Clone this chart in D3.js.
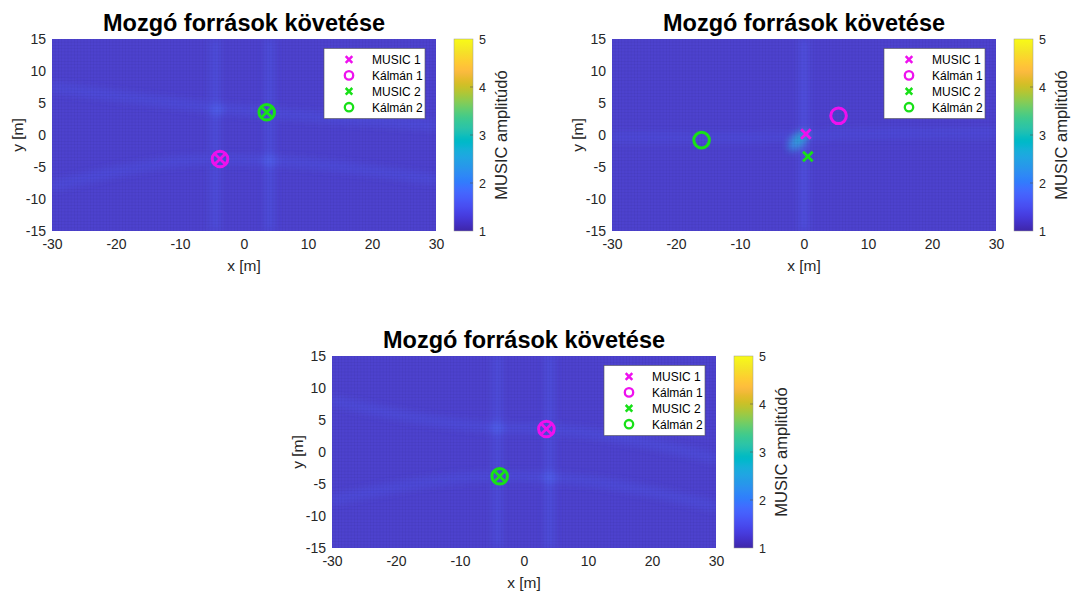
<!DOCTYPE html>
<html><head><meta charset="utf-8">
<script src="https://cdn.jsdelivr.net/npm/d3@7"></script>
<style>body{margin:0;background:#fff}svg{display:block}text{font-family:"Liberation Sans",Arial,sans-serif}</style>
</head><body>
<script>
// ---------- data ----------
const titleText = "Mozgó források követése";
const xTicks = [-30,-20,-10,0,10,20,30];
const yTicks = [-15,-10,-5,0,5,10,15];
const cTicks = [1,2,3,4,5];
const legendNames = ["MUSIC 1","Kálmán 1","MUSIC 2","Kálmán 2"];
// estimated positions per panel [panel1, panel2, panel3]
const music1  = [[-3.75,-3.75],[0.3,0.15],[3.5,3.6]];
const kalman1 = [[-3.75,-3.75],[5.4,3.0],[3.5,3.6]];
const music2  = [[3.55,3.55],[0.6,-3.35],[-3.8,-3.8]];
const kalman2 = [[3.55,3.55],[-16,-0.8],[-3.8,-3.8]];
// MUSIC spectrum: background level and faint ridges (data units)
const baseLevel = [1.28,1.28,1.28];
const ridges1 = [
  {pts:[[-4.5,15],[-4.5,-15]], level:1.45},
  {pts:[[4,15],[4,-15]], level:1.45},
  {pts:[[-30,7.5],[-4,4.2],[3.5,3.5],[30,1.5]], level:1.42},
  {pts:[[-30,-8],[-4,-3.8],[3.5,-4],[30,-7]], level:1.42}
];
const ridges2 = [
  {pts:[[0,15],[0,-15]], level:1.48},
  {pts:[[-30,-0.3],[-10,-0.4],[10,0.2],[30,0.3]], level:1.4}
];
const ridges3 = [
  {pts:[[-4.2,15],[-4.2,-15]], level:1.45},
  {pts:[[4,15],[4,-15]], level:1.45},
  {pts:[[-30,8],[-4,3.8],[3.5,3.6],[30,-1]], level:1.42},
  {pts:[[-30,-7.5],[-3.8,-3.8],[4,-4],[30,-8.5]], level:1.42}
];
const spots1 = [{x:-4.3,y:4,rx:1,ry:1,angle:0,level:1.65},{x:4,y:-4,rx:1,ry:1,angle:0,level:1.65}];
const spots2 = [{x:-0.9,y:-0.9,rx:2.0,ry:1.0,angle:-45,level:2.2},{x:-0.7,y:-0.6,rx:1.0,ry:0.6,angle:-45,level:2.6}];
const spots3 = [{x:-4.2,y:3.8,rx:1,ry:1,angle:0,level:1.65},{x:4,y:-4,rx:1,ry:1,angle:0,level:1.65}];
const ridgeSets = [ridges1, ridges2, ridges3];
const spotSets = [spots1, spots2, spots3];
// parula colormap (MATLAB)
const parula = [[0.2422,0.1504,0.6603],[0.2504,0.1650,0.7076],[0.2578,0.1818,0.7511],[0.2647,0.1978,0.7952],[0.2706,0.2147,0.8364],[0.2751,0.2342,0.8710],[0.2783,0.2559,0.8991],[0.2803,0.2782,0.9221],[0.2813,0.3006,0.9414],[0.2810,0.3228,0.9579],[0.2795,0.3447,0.9717],[0.2760,0.3667,0.9829],[0.2699,0.3892,0.9906],[0.2602,0.4123,0.9952],[0.2440,0.4358,0.9988],[0.2206,0.4603,0.9973],[0.1963,0.4847,0.9892],[0.1834,0.5074,0.9798],[0.1786,0.5289,0.9682],[0.1764,0.5499,0.9520],[0.1687,0.5703,0.9359],[0.1540,0.5902,0.9218],[0.1460,0.6091,0.9079],[0.1380,0.6276,0.8973],[0.1248,0.6459,0.8883],[0.1113,0.6635,0.8763],[0.0952,0.6798,0.8598],[0.0689,0.6948,0.8394],[0.0297,0.7082,0.8163],[0.0036,0.7203,0.7917],[0.0067,0.7312,0.7660],[0.0433,0.7411,0.7394],[0.0964,0.7500,0.7120],[0.1408,0.7584,0.6842],[0.1717,0.7670,0.6554],[0.1938,0.7758,0.6251],[0.2161,0.7843,0.5923],[0.2470,0.7918,0.5567],[0.2906,0.7973,0.5188],[0.3406,0.8008,0.4789],[0.3909,0.8029,0.4354],[0.4456,0.8024,0.3909],[0.5044,0.7993,0.3480],[0.5616,0.7942,0.3045],[0.6174,0.7876,0.2612],[0.6720,0.7793,0.2227],[0.7242,0.7698,0.1910],[0.7738,0.7598,0.1646],[0.8203,0.7498,0.1535],[0.8634,0.7406,0.1596],[0.9035,0.7330,0.1774],[0.9393,0.7288,0.2100],[0.9728,0.7298,0.2394],[0.9956,0.7434,0.2371],[0.9970,0.7659,0.2199],[0.9952,0.7893,0.2028],[0.9892,0.8136,0.1885],[0.9786,0.8386,0.1766],[0.9676,0.8639,0.1643],[0.9610,0.8890,0.1537],[0.9597,0.9135,0.1423],[0.9628,0.9373,0.1265],[0.9691,0.9606,0.1064],[0.9769,0.9839,0.0805]];

// ---------- rendering ----------
const W = 1071, H = 592;
const svg = d3.select("body").append("svg").attr("width", W).attr("height", H);
const defs = svg.append("defs");
const blur = defs.append("filter").attr("id","blur").attr("filterUnits","userSpaceOnUse")
  .attr("x",0).attr("y",0).attr("width",W).attr("height",H);
blur.append("feGaussianBlur").attr("stdDeviation",3.5);

const parulaColors = parula.map(c => d3.rgb(c[0]*255,c[1]*255,c[2]*255).formatHex());
const cInterp = d3.piecewise(d3.interpolateRgb, parulaColors);
const colorScale = d3.scaleSequential(cInterp).domain([1,5]);

const grad = defs.append("linearGradient").attr("id","cbgrad")
  .attr("x1",0).attr("y1",1).attr("x2",0).attr("y2",0);
parulaColors.forEach((c,i)=>grad.append("stop").attr("offset", i/(parulaColors.length-1)).attr("stop-color", c));

const panels = [{left:52, top:39},{left:612, top:39},{left:332, top:356}];
const PW = 384, PH = 192;
const tickColor = "#262626";
const magenta = "#ee11ee", green = "#18e018";
const FF = "'Liberation Sans',Arial,sans-serif";

function xMark(sel, s, color, sw){
  sel.append("path").attr("d",`M${-s},${-s}L${s},${s}M${-s},${s}L${s},${-s}`)
    .attr("stroke",color).attr("stroke-width",sw).attr("fill","none");
}
function oMark(sel, r, color, sw){
  sel.append("circle").attr("r",r).attr("fill","none").attr("stroke",color).attr("stroke-width",sw);
}

panels.forEach((p,i)=>{
  const x = d3.scaleLinear().domain([-30,30]).range([0,PW]);
  const y = d3.scaleLinear().domain([-15,15]).range([PH,0]);
  const g = svg.append("g").attr("transform",`translate(${p.left},${p.top})`);
  defs.append("clipPath").attr("id","clip"+i).append("rect").attr("width",PW).attr("height",PH);

  // heatmap
  const hm = g.append("g").attr("clip-path",`url(#clip${i})`);
  hm.append("rect").attr("width",PW).attr("height",PH).attr("fill",colorScale(baseLevel[i]));
  const rg = hm.append("g").attr("filter","url(#blur)");
  const line = d3.line().x(d=>x(d[0])).y(d=>y(d[1])).curve(d3.curveMonotoneX);
  rg.selectAll("path.ridge").data(ridgeSets[i]).join("path")
    .attr("d", d=> d.pts[0][0]===d.pts[1][0] ? `M${x(d.pts[0][0])},${y(d.pts[0][1])}L${x(d.pts[1][0])},${y(d.pts[1][1])}` : line(d.pts))
    .attr("fill","none").attr("stroke",d=>colorScale(d.level)).attr("stroke-width",9).attr("stroke-opacity",0.85);
  rg.selectAll("ellipse").data(spotSets[i]).join("ellipse")
    .attr("transform",d=>`translate(${x(d.x)},${y(d.y)}) rotate(${d.angle})`)
    .attr("rx",d=>x(d.rx)-x(0)).attr("ry",d=>x(d.ry)-x(0))
    .attr("fill",d=>colorScale(d.level));
  // muted surface shading + fine mesh texture
  hm.append("rect").attr("width",PW).attr("height",PH).attr("fill","#808080").attr("fill-opacity",0.13);
  const mesh = hm.append("g").attr("stroke","#000").attr("stroke-opacity",0.05).attr("stroke-width",0.7);
  d3.range(-30,30.01,0.5).forEach(v=>mesh.append("line").attr("x1",x(v)).attr("x2",x(v)).attr("y1",0).attr("y2",PH));
  d3.range(-15,15.01,0.5).forEach(v=>mesh.append("line").attr("y1",y(v)).attr("y2",y(v)).attr("x1",0).attr("x2",PW));

  // markers
  const mk = g.append("g");
  xMark(mk.append("g").attr("transform",`translate(${x(music1[i][0])},${y(music1[i][1])})`), 4.8, magenta, 2.8);
  oMark(mk.append("g").attr("transform",`translate(${x(kalman1[i][0])},${y(kalman1[i][1])})`), 7.8, magenta, 3);
  xMark(mk.append("g").attr("transform",`translate(${x(music2[i][0])},${y(music2[i][1])})`), 4.8, green, 2.8);
  oMark(mk.append("g").attr("transform",`translate(${x(kalman2[i][0])},${y(kalman2[i][1])})`), 7.8, green, 3);

  // axes
  const xa = g.append("g").attr("transform",`translate(0,${PH})`)
    .call(d3.axisBottom(x).tickValues(xTicks).tickSize(0).tickPadding(8).tickFormat(d3.format("d")));
  const ya = g.append("g").call(d3.axisLeft(y).tickValues(yTicks).tickSize(0).tickPadding(6).tickFormat(d3.format("d")));
  [xa,ya].forEach(a=>{a.select(".domain").remove();
    a.selectAll("text").attr("fill",tickColor).style("font-size","14px").style("font-family",FF);});
  ya.selectAll("text").text(d=>d<0?"-"+Math.abs(d):d);
  xa.selectAll("text").text(d=>d<0?"-"+Math.abs(d):d);

  g.append("text").attr("x",PW/2).attr("y",PH+40).attr("text-anchor","middle")
    .attr("fill",tickColor).style("font-size","15.5px").text("x [m]");
  g.append("text").attr("transform",`translate(-29,${PH/2}) rotate(-90)`).attr("text-anchor","middle")
    .attr("fill",tickColor).style("font-size","15.5px").text("y [m]");
  g.append("text").attr("x",PW/2).attr("y",-8).attr("text-anchor","middle")
    .attr("fill","#000").style("font-size","23.5px").style("font-weight","bold").text(titleText);

  // legend
  const lg = g.append("g").attr("transform",`translate(${PW-112},9.5)`);
  lg.append("rect").attr("width",101).attr("height",70).attr("fill","#fff").attr("stroke","#555").attr("stroke-width",0.6);
  legendNames.forEach((nm,k)=>{
    const row = lg.append("g").attr("transform",`translate(25,${11+k*15.9})`);
    const col = k<2?magenta:green;
    if(k%2===0) xMark(row,3.3,col,2.5); else oMark(row,4.2,col,2.3);
    row.append("text").attr("x",23).attr("y",4.5).attr("fill","#000").style("font-size","12px").text(nm);
  });

  // colorbar
  const cb = g.append("g").attr("transform",`translate(${PW+18},0)`);
  const cy = d3.scaleLinear().domain([1,5]).range([PH,0]);
  cb.append("rect").attr("width",19).attr("height",PH).attr("fill","url(#cbgrad)");
  cb.append("rect").attr("width",19).attr("height",PH).attr("fill","none").attr("stroke","#9a9a9a").attr("stroke-width",0.5);
  const ca = cb.append("g").attr("transform","translate(19,0)")
    .call(d3.axisRight(cy).tickValues(cTicks).tickSize(0).tickPadding(6).tickFormat(d3.format("d")));
  ca.select(".domain").remove();
  ca.selectAll("text").attr("fill",tickColor).style("font-size","12.5px").style("font-family",FF);
  cb.selectAll("line.ct").data(cTicks.slice(1,-1)).join("line").attr("class","ct")
    .attr("x1",16).attr("x2",19).attr("y1",d=>cy(d)).attr("y2",d=>cy(d)).attr("stroke","#555").attr("stroke-width",0.6);
  cb.append("text").attr("transform",`translate(53,${PH/2}) rotate(-90)`).attr("text-anchor","middle")
    .attr("fill",tickColor).style("font-size","16.5px").text("MUSIC amplitúdó");
});
</script>
</body></html>
